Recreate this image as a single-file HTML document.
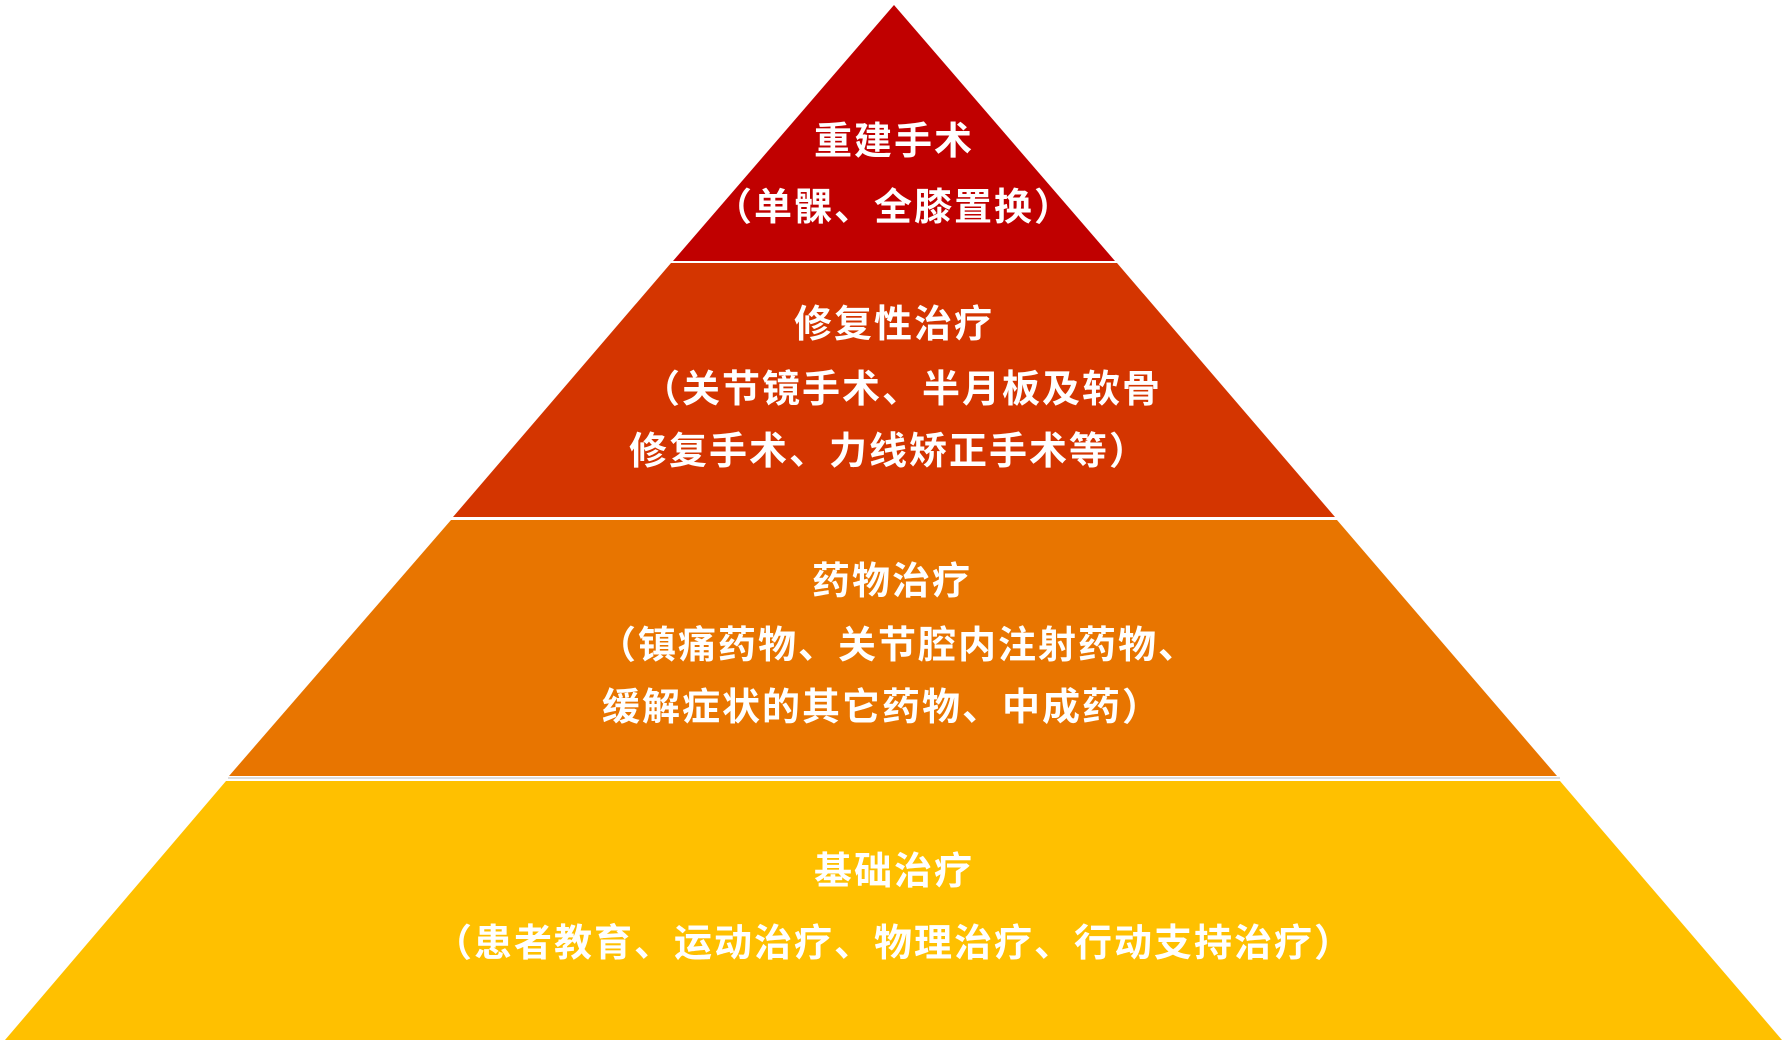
<!DOCTYPE html>
<html><head><meta charset="utf-8"><style>
html,body{margin:0;padding:0;background:#fff;}
body{width:1788px;height:1042px;position:relative;overflow:hidden;font-family:"Liberation Sans","Noto Sans CJK SC",sans-serif;}
.t{position:absolute;color:#fff;font-weight:bold;font-size:38px;letter-spacing:2px;white-space:nowrap;transform:translate(-50%,-50%);line-height:1;}
</style></head><body>
<svg width="1788" height="1042" style="position:absolute;left:0;top:0">
<polygon points="894,5 1115,261 673,261" fill="#C00000"/>
<polygon points="671,263 1117,263 1335,517 453,517" fill="#D43500"/>
<polygon points="451,520 1337,520 1557,776 229,776" fill="#E87500"/>
<line x1="228" y1="778" x2="1560" y2="778" stroke="#bbb" stroke-width="1"/>
<polygon points="226,781 1560,781 1782,1040 5,1040" fill="#FFC000"/>
</svg>
<div class="t" style="left:894px;top:142px">重建手术</div>
<div class="t" style="left:894px;top:208px">（单髁、全膝置换）</div>
<div class="t" style="left:894px;top:325px">修复性治疗</div>
<div class="t" style="left:902px;top:390px">（关节镜手术、半月板及软骨</div>
<div class="t" style="left:889px;top:452px">修复手术、力线矫正手术等）</div>
<div class="t" style="left:892px;top:582px">药物治疗</div>
<div class="t" style="left:898px;top:646px">（镇痛药物、关节腔内注射药物、</div>
<div class="t" style="left:882px;top:708px">缓解症状的其它药物、中成药）</div>
<div class="t" style="left:894px;top:872px">基础治疗</div>
<div class="t" style="left:894px;top:944px">（患者教育、运动治疗、物理治疗、行动支持治疗）</div>
</body></html>
